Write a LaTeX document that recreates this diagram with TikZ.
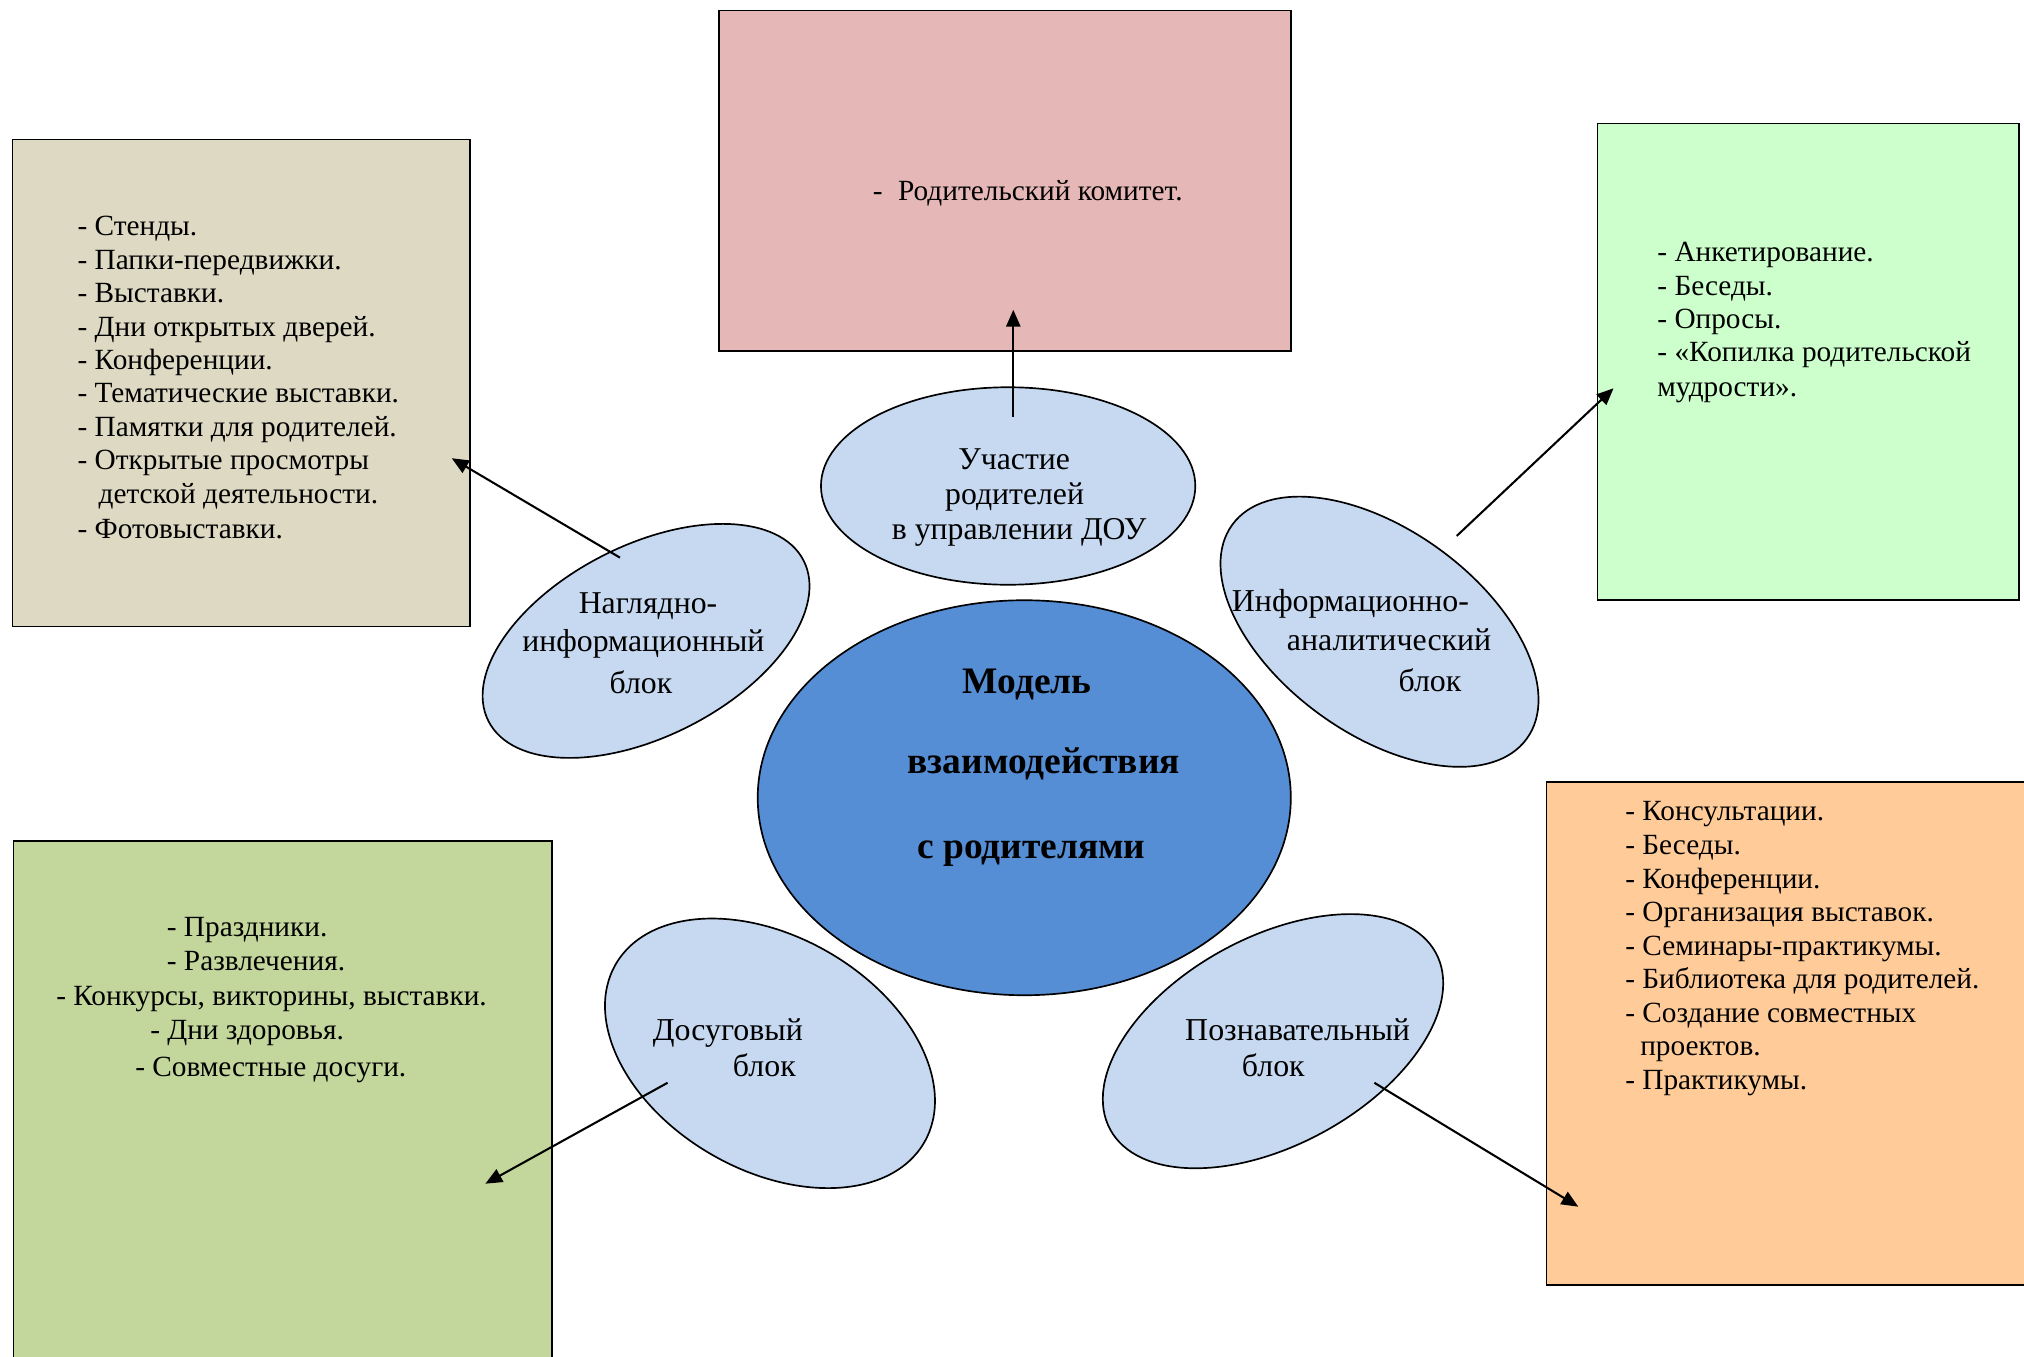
\documentclass[tikz,border=0pt]{standalone}
\usepackage{fontspec}
\setmainfont{Liberation Serif}
\usetikzlibrary{shapes.geometric,arrows.meta}
\definecolor{beige}{HTML}{DDD9C3}
\definecolor{pinkbox}{HTML}{E5B8B7}
\definecolor{mintbox}{HTML}{CCFFCC}
\definecolor{olivebox}{HTML}{C3D69B}
\definecolor{orangebox}{HTML}{FFCC99}
\definecolor{centerblue}{HTML}{558ED5}
\definecolor{lblue}{HTML}{C6D9F1}
\begin{document}
\begin{tikzpicture}[x=1pt,y=-1pt,
  box/.style={draw=black, line width=1.2pt, anchor=north west, inner sep=0, outer sep=0},
  txt/.style={font=\fontsize{22.7}{26}\selectfont, inner sep=0, anchor=base west},
  etxt/.style={font=\fontsize{24.6}{27}\selectfont, inner sep=0, anchor=base},
  etxtl/.style={font=\fontsize{24.7}{27}\selectfont, inner sep=0, anchor=base west},
  ctxt/.style={font=\fontsize{29}{30}\selectfont\bfseries, inner sep=0, anchor=base},
  oval/.style={ellipse, draw=black, line width=1.3pt, fill=lblue, inner sep=0, outer sep=0},
  arr/.style={line width=1.6pt, -{Triangle[length=13pt,width=11pt]}}]
\useasboundingbox (0,0) rectangle (1568,1050.5);
\begin{scope}
\clip (0,0) rectangle (1568,1050.5);
\fill[white] (0,0) rectangle (1568,1050.5);

% boxes
\node[box, fill=beige, minimum width=354.3pt, minimum height=377.6pt] (bnag) at (9.8,107.9) {};
\node[box, fill=pinkbox, minimum width=443pt, minimum height=264pt] (bupr) at (557,8) {};
\node[box, fill=mintbox, minimum width=326.6pt, minimum height=369.3pt] (binf) at (1237.7,95.5) {};
\node[box, fill=olivebox, minimum width=417pt, minimum height=440pt] (bdos) at (10.5,651.5) {};
\node[box, fill=orangebox, minimum width=420pt, minimum height=389.7pt] (bpoz) at (1198.2,605.8) {};

% ellipses
\node[ellipse, draw=black, line width=1.3pt, fill=centerblue, inner sep=0, outer sep=0,
      minimum width=413pt, minimum height=306pt] (center) at (793.5,618) {};
\node[oval, minimum width=290pt, minimum height=153pt] (eupr) at (781,376.5) {};
\node[oval, minimum width=274pt, minimum height=148pt, rotate=27] (enag) at (500.5,496.5) {};
\node[oval, minimum width=282pt, minimum height=158pt, rotate=-36] (einf) at (1068.7,489.4) {};
\node[oval, minimum width=276pt, minimum height=181pt, rotate=-30] (edos) at (596.5,816) {};
\node[oval, minimum width=287pt, minimum height=161pt, rotate=28.5] (epoz) at (986.2,806.6) {};

% central text
\node[ctxt] (c1) at (795.6,537) {Модель};
\node[ctxt] (c2) at (808.5,599) {взаимодействия};
\node[ctxt] (c3) at (799,665) {с родителями};

% ellipse texts
\node[etxt] (u1) at (785.7,364) {Участие};
\node[etxt] (u2) at (786,391) {родителей};
\node[etxt] (u3) at (789.5,418) {в управлении ДОУ};

\node[etxt] (n1) at (502,475.2) {Наглядно-};
\node[etxt] (n2) at (498.4,504.9) {информационный};
\node[etxt] (n3) at (496.5,537.1) {блок};

\node[etxtl] (i1) at (954.2,473.9) {Информационно-};
\node[etxtl] (i2) at (996.8,503.6) {аналитический};
\node[etxtl] (i3) at (1083.3,535.9) {блок};

\node[etxtl] (d1) at (505.6,805.7) {Досуговый};
\node[etxtl] (d2) at (567.6,834.1) {блок};

\node[etxtl] (p1) at (918,805.7) {Познавательный};
\node[etxtl] (p2) at (961.9,834.1) {блок};

% box texts
\node[txt] (t01) at (59.9,182.8) {- Стенды.};
\node[txt] (t02) at (59.9,208.6) {- Папки-передвижки.};
\node[txt] (t03) at (59.9,234.5) {- Выставки.};
\node[txt] (t04) at (59.9,260.3) {- Дни открытых дверей.};
\node[txt] (t05) at (59.9,286.1) {- Конференции.};
\node[txt] (t06) at (59.9,312) {- Тематические выставки.};
\node[txt] (t07) at (59.9,337.8) {- Памятки для родителей.};
\node[txt] (t08) at (59.9,364.1) {- Открытые просмотры};
\node[txt] (t09) at (76.2,389.9) {детской деятельности.};
\node[txt] (t10) at (59.9,417) {- Фотовыставки.};

\node[txt] (t11) at (676,155) {-\hspace{12pt}Родительский комитет.};

\node[txt] (t12) at (1283.8,202.7) {- Анкетирование.};
\node[txt] (t13) at (1283.8,228.6) {- Беседы.};
\node[txt] (t14) at (1283.8,254.4) {- Опросы.};
\node[txt] (t15) at (1283.8,280.2) {- «Копилка родительской};
\node[txt] (t16) at (1283.8,307.3) {мудрости».};

\node[txt] (t17) at (129.1,725.7) {- Праздники.};
\node[txt] (t18) at (129.1,751.5) {- Развлечения.};
\node[txt] (t19) at (43.4,778.6) {- Конкурсы, викторины, выставки.};
\node[txt] (t20) at (116.2,805.2) {- Дни здоровья.};
\node[txt] (t21) at (104.6,834.1) {- Совместные досуги.};

\node[txt] (t22) at (1258.9,635.8) {- Консультации.};
\node[txt] (t23) at (1258.9,662) {- Беседы.};
\node[txt] (t24) at (1258.9,688) {- Конференции.};
\node[txt] (t25) at (1258.9,714) {- Организация выставок.};
\node[txt] (t26) at (1258.9,740) {- Семинары-практикумы.};
\node[txt] (t27) at (1258.9,766) {- Библиотека для родителей.};
\node[txt] (t28) at (1258.9,792) {- Создание совместных};
\node[txt] (t29) at (1270.5,818) {проектов.};
\node[txt] (t30) at (1258.9,844.4) {- Практикумы.};

% arrows
\coordinate (a1s) at (785,323);
\coordinate (a1e) at (785,240);
\coordinate (a2s) at (480.3,432);
\coordinate (a2e) at (350,355);
\coordinate (a3s) at (1128.5,415.2);
\coordinate (a3e) at (1250,300.8);
\coordinate (a4s) at (517.2,838.8);
\coordinate (a4e) at (376,917);
\coordinate (a5s) at (1064.7,838.8);
\coordinate (a5e) at (1222.7,934.8);
\draw[arr] (a1s) -- (a1e);
\draw[arr] (a2s) -- (a2e);
\draw[arr] (a3s) -- (a3e);
\draw[arr] (a4s) -- (a4e);
\draw[arr] (a5s) -- (a5e);
\end{scope}
\end{tikzpicture}
\end{document}
